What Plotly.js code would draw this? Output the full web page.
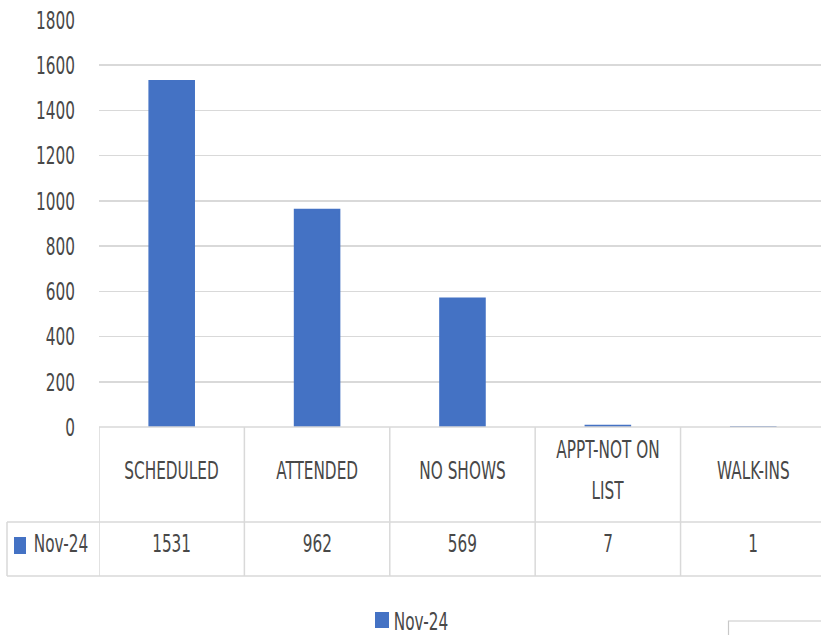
<!DOCTYPE html>
<html>
<head>
<meta charset="utf-8">
<script src="https://cdn.plot.ly/plotly-3.0.1.min.js"></script>
<style>
  html, body { margin: 0; padding: 0; background: #ffffff; }
  #chart { width: 821px; height: 635px; }
</style>
</head>
<body>
<div id="chart"></div>
<script>
// Appointment counts for the month, shown as columns with a data table underneath
const categories = ["SCHEDULED", "ATTENDED", "NO SHOWS", "APPT-NOT ON<br>LIST", "WALK-INS"];
const seriesName = "Nov-24";
const values = [1531, 962, 569, 7, 1];
const yTicks = [0, 200, 400, 600, 800, 1000, 1200, 1400, 1600, 1800];

const W = 821, H = 635;
const M = { l: 99, r: 0, t: 20, b: 208 };
const plotW = W - M.l - M.r;
const plotH = H - M.t - M.b;
// pixel -> paper helpers for the table area below the plot
const px = x => (x - M.l) / plotW;
const py = y => (H - M.b - y) / plotH;

const FONT = "'DejaVu Sans Condensed', 'DejaVu Sans', sans-serif";
const FS = 25;
const NARROW = 0.68;         // horizontal squeeze applied to every label
const TXT = "#484848";
const GRID = "#d9d9d9";
const BLUE = "#4472C4";
const idx = categories.map((_, i) => i);

const trace = {
  type: "bar",
  x: idx,
  y: values,
  name: seriesName,
  marker: { color: BLUE, line: { color: BLUE, width: 1.5 } },
  hoverinfo: "skip",
  showlegend: false
};

// table row positions (pixels)
const tableTop = 427, rowSplit = 522, tableBottom = 576;
const catRowMid = 470;
const catLineGap = 41;
const valRowMid = 543;

const shapes = [];
const lineStyle = { color: GRID, width: 1.5 };
// horizontal table borders
shapes.push({ type: "line", xref: "paper", yref: "paper", x0: 0, x1: 1.02, y0: py(tableTop), y1: py(tableTop), line: lineStyle });
shapes.push({ type: "line", xref: "paper", yref: "paper", x0: px(7), x1: 1.02, y0: py(rowSplit), y1: py(rowSplit), line: lineStyle });
shapes.push({ type: "line", xref: "paper", yref: "paper", x0: px(7), x1: 1.02, y0: py(tableBottom), y1: py(tableBottom), line: lineStyle });
// vertical column dividers, at category boundaries
idx.forEach(i => {
  shapes.push({ type: "line", xref: "x", yref: "paper", x0: i - 0.5, x1: i - 0.5, y0: py(tableTop), y1: py(tableBottom), line: lineStyle });
});
shapes.push({ type: "line", xref: "paper", yref: "paper", x0: px(7), x1: px(7), y0: py(rowSplit), y1: py(tableBottom), line: lineStyle });
// series key in the table row header
shapes.push({ type: "rect", xref: "paper", yref: "paper", x0: px(14), x1: px(26), y0: py(554), y1: py(537), fillcolor: BLUE, line: { width: 0 } });
// legend key below the table
shapes.push({ type: "rect", xref: "paper", yref: "paper", x0: px(375), x1: px(389), y0: py(628), y1: py(612), fillcolor: BLUE, line: { width: 0 } });
// empty box at lower right
shapes.push({ type: "rect", xref: "paper", yref: "paper", x0: px(728.5), x1: 1.05, y0: py(621), y1: py(660), fillcolor: "rgba(0,0,0,0)", line: { color: "#c8c8c8", width: 1.2 } });

const annotations = [];
const label = (xref, x, y, text) => ({
  xref: xref, yref: "paper", x: x, y: py(y),
  text: text, showarrow: false, xanchor: "center", yanchor: "middle",
  font: { family: FONT, size: FS, color: TXT }
});
categories.forEach((c, i) => {
  const lines = c.split("<br>");
  lines.forEach((ln, k) => {
    const yc = catRowMid + (k - (lines.length - 1) / 2) * catLineGap;
    annotations.push(label("x", i, yc, ln));
  });
  annotations.push(label("x", i, valRowMid, String(values[i])));
});
annotations.push(label("paper", px(61), valRowMid, seriesName));
annotations.push(label("paper", px(421), 621, seriesName));

const layout = {
  width: W, height: H,
  margin: M,
  paper_bgcolor: "#ffffff",
  plot_bgcolor: "#ffffff",
  bargap: 0.69,
  showlegend: false,
  xaxis: {
    type: "linear",
    range: [-0.5, 4.466],
    showgrid: false, zeroline: false, showline: false,
    showticklabels: false, ticks: "", fixedrange: true
  },
  yaxis: {
    range: [0, 1800],
    tickvals: yTicks,
    ticktext: yTicks.map(String),
    showgrid: true, gridcolor: GRID, gridwidth: 1.5,
    zeroline: false, showline: false, ticks: "",
    ticklabelstandoff: 23,
    tickfont: { family: FONT, size: FS, color: TXT },
    fixedrange: true
  },
  shapes: shapes,
  annotations: annotations
};

// squeeze the glyphs horizontally so the labels read as a narrow face
function narrowText(gd, k) {
  gd.querySelectorAll("svg text").forEach(t => {
    const lines = t.querySelectorAll("tspan.line");
    const targets = lines.length ? Array.from(lines) : [t];
    targets.forEach(el => {
      const len = el.getComputedTextLength();
      if (len > 0) {
        el.setAttribute("textLength", (len * k).toFixed(2));
        el.setAttribute("lengthAdjust", "spacingAndGlyphs");
      }
    });
  });
}

Plotly.newPlot("chart", [trace], layout, { displayModeBar: false, staticPlot: true })
  .then(gd => narrowText(gd, NARROW));
</script>
</body>
</html>
